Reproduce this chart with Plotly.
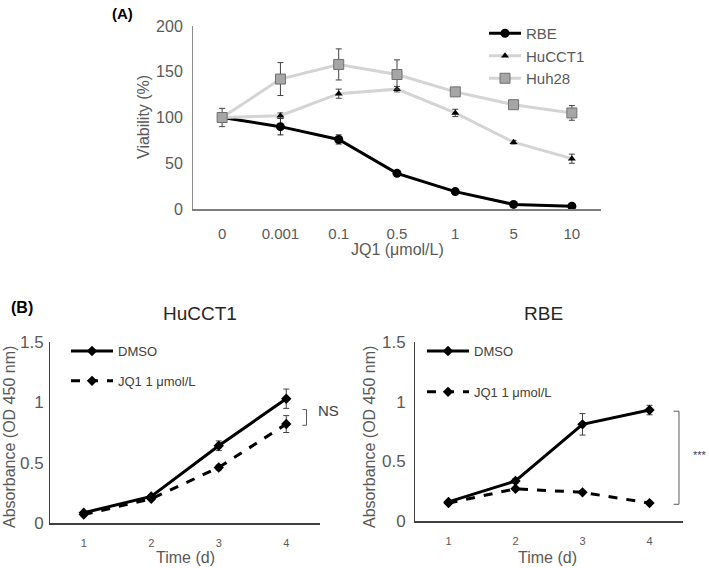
import plotly.graph_objects as go

W, H = 709, 568
FONT = "Liberation Sans, Arial, sans-serif"

# (A) viability vs JQ1 concentration
conc_labels = ["0", "0.001", "0.1", "0.5", "1", "5", "10"]
rbe_via = [100, 90, 76, 39, 19, 5, 3]
rbe_via_err = [5, 9, 5, 2, 2, 1, 1]
hucct1_via = [100, 102, 126, 131, 105, 73, 55]
hucct1_via_err = [5, 3, 5, 3, 4, 2, 5]
huh28_via = [100, 142, 158, 147, 128, 114, 105]
huh28_via_err = [10, 18, 17, 16, 3, 3, 8]

# (B) absorbance over time
days = [1, 2, 3, 4]
hucct1_dmso = [0.085, 0.22, 0.64, 1.03]
hucct1_dmso_err = [0.01, 0.01, 0.04, 0.08]
hucct1_jq1 = [0.07, 0.20, 0.46, 0.82]
hucct1_jq1_err = [0.01, 0.01, 0.02, 0.07]
rbe_dmso = [0.16, 0.335, 0.81, 0.93]
rbe_dmso_err = [0.01, 0.02, 0.09, 0.04]
rbe_jq1 = [0.15, 0.27, 0.24, 0.15]
rbe_jq1_err = [0.01, 0.01, 0.01, 0.01]

# significance brackets (value span)
ns_span = [0.81, 0.94]
stars_span = [0.14, 0.92]


def px(x, y):
    """pixel -> paper coords"""
    return x / W, 1 - y / H


def err(arr, color):
    return dict(type="data", array=arr, color=color, thickness=1, width=3)


fig = go.Figure()

# ---- panel A
fig.add_trace(go.Scatter(
    x=conc_labels, y=rbe_via, name="RBE", mode="lines+markers",
    line=dict(color="black", width=3),
    marker=dict(symbol="circle", size=9, color="black"),
    error_y=err(rbe_via_err, "#222222"), legend="legend", legendgroup="a1",
    xaxis="x", yaxis="y"))
fig.add_trace(go.Scatter(
    x=conc_labels, y=hucct1_via, name="HuCCT1", mode="lines+markers",
    line=dict(color="#d4d4d4", width=3),
    marker=dict(symbol="triangle-up", size=7, color="black"),
    error_y=err(hucct1_via_err, "#404040"), legend="legend", legendgroup="a2",
    xaxis="x", yaxis="y"))
fig.add_trace(go.Scatter(
    x=conc_labels, y=huh28_via, name="Huh28", mode="lines+markers",
    line=dict(color="#d4d4d4", width=3),
    marker=dict(symbol="square", size=10, color="#a6a6a6",
                line=dict(color="#6f6f6f", width=1)),
    error_y=err(huh28_via_err, "#404040"), legend="legend", legendgroup="a3",
    xaxis="x", yaxis="y"))

# ---- panel B
for xa, ya, leg, dmso, dmso_e, jq1, jq1_e in [
    ("x2", "y2", "legend2", hucct1_dmso, hucct1_dmso_err, hucct1_jq1, hucct1_jq1_err),
    ("x3", "y3", "legend3", rbe_dmso, rbe_dmso_err, rbe_jq1, rbe_jq1_err),
]:
    fig.add_trace(go.Scatter(
        x=days, y=dmso, name="DMSO", mode="lines+markers",
        line=dict(color="black", width=3),
        marker=dict(symbol="diamond", size=8, color="black"),
        error_y=err(dmso_e, "#404040"), legend=leg, legendgroup=leg + "d",
        xaxis=xa, yaxis=ya))
    fig.add_trace(go.Scatter(
        x=days, y=jq1, name="JQ1 1 μmol/L", mode="lines+markers",
        line=dict(color="black", width=3, dash="dash"),
        marker=dict(symbol="diamond", size=8, color="black"),
        error_y=err(jq1_e, "#404040"), legend=leg, legendgroup=leg + "j",
        xaxis=xa, yaxis=ya))

tick_font = dict(family=FONT, size=15, color="#595959")
b_tick_font = dict(family=FONT, size=17, color="#595959")
b_x_font = dict(family=FONT, size=11, color="#595959")
common = dict(showline=True, showgrid=False, zeroline=False, automargin=False)

fig.update_layout(
    width=W, height=H, margin=dict(l=0, r=0, t=0, b=0, autoexpand=False),
    paper_bgcolor="white", plot_bgcolor="white",
    font=dict(family=FONT, color="#404040"),
    xaxis=dict(domain=[193 / W, 601 / W], type="category", range=[-0.5, 6.5],
               linecolor="#7f7f7f", linewidth=2, tickfont=tick_font,
               ticklabelstandoff=10, anchor="y", **common),
    yaxis=dict(domain=[1 - 209 / H, 1 - 26 / H], range=[0, 200], dtick=50,
               linecolor="#8c8c8c", linewidth=1,
               tickfont=dict(family=FONT, size=16, color="#595959"),
               ticklabelstandoff=6, anchor="x", **common),
    xaxis2=dict(domain=[50 / W, 320 / W], range=[0.5, 4.5], tickvals=days,
                linecolor="#404040", linewidth=1.5, tickfont=b_x_font,
                ticklabelstandoff=9, anchor="y2", **common),
    yaxis2=dict(domain=[1 - 523 / H, 1 - 342 / H], range=[0, 1.5], dtick=0.5,
                linecolor="#404040", linewidth=1, tickfont=b_tick_font,
                ticklabelstandoff=2, anchor="x2", **common),
    xaxis3=dict(domain=[415 / W, 683 / W], range=[0.5, 4.5], tickvals=days,
                linecolor="#404040", linewidth=1.5, tickfont=b_x_font,
                ticklabelstandoff=9, anchor="y3", **common),
    yaxis3=dict(domain=[1 - 521 / H, 1 - 342 / H], range=[0, 1.5], dtick=0.5,
                linecolor="#404040", linewidth=1, tickfont=b_tick_font,
                ticklabelstandoff=5, anchor="x3", **common),
    legend=dict(x=484 / W, y=1 - 17 / H, xanchor="left", yanchor="top",
                bgcolor="rgba(0,0,0,0)", tracegroupgap=0, itemwidth=32,
                font=dict(family=FONT, size=15, color="#595959")),
    legend2=dict(x=66 / W, y=1 - 336 / H, xanchor="left", yanchor="top",
                 bgcolor="rgba(0,0,0,0)", tracegroupgap=10, itemwidth=42,
                 font=dict(family=FONT, size=13, color="#404040")),
    legend3=dict(x=422 / W, y=1 - 336 / H, xanchor="left", yanchor="top",
                 bgcolor="rgba(0,0,0,0)", tracegroupgap=21, itemwidth=42,
                 font=dict(family=FONT, size=13, color="#404040")),
    showlegend=True,
)

# brackets
fig.add_shape(type="path", xref="x2 domain", yref="y2 domain",
              path="M 0.935 {a} L 0.95 {a} L 0.95 {b} L 0.935 {b}".format(
                  a=ns_span[1] / 1.5, b=ns_span[0] / 1.5),
              line=dict(color="#595959", width=1))
fig.add_shape(type="path", xref="x3 domain", yref="y3 domain",
              path="M 0.965 {a} L 0.985 {a} L 0.985 {b} L 0.965 {b}".format(
                  a=stars_span[1] / 1.5, b=stars_span[0] / 1.5),
              line=dict(color="#595959", width=1))


def label(text, x, y, size, color="#404040", angle=0, bold=False):
    xp, yp = px(x, y)
    fig.add_annotation(text=f"<b>{text}</b>" if bold else text, x=xp, y=yp,
                       xref="paper", yref="paper", showarrow=False,
                       xanchor="center", yanchor="middle",
                       textangle=angle, font=dict(family=FONT, size=size, color=color))


label("(A)", 122, 14, 15, color="black", bold=True)
label("Viability (%)", 143, 117, 16, color="#595959", angle=-90)
label("JQ1 (μmol/L)", 397, 250, 16, color="#595959")
label("(B)", 22, 307, 16, color="black", bold=True)
label("HuCCT1", 200, 313, 19, color="#262626")
label("RBE", 543, 313, 19, color="#262626")
label("Absorbance (OD 450 nm)", 9, 437, 16, color="#595959", angle=-90)
label("Absorbance (OD 450 nm)", 369, 437, 16, color="#595959", angle=-90)
label("Time (d)", 185, 557, 16, color="#595959")
label("Time (d)", 547, 557, 16, color="#595959")
label("NS", 328, 410, 15, color="#404040")
label("***", 700, 455, 11, color="#404040")

# page body margin would offset the fixed-size figure
fig.write_html("out.html", config={"displayModeBar": False},
               post_script="document.body.style.margin = '0';")
